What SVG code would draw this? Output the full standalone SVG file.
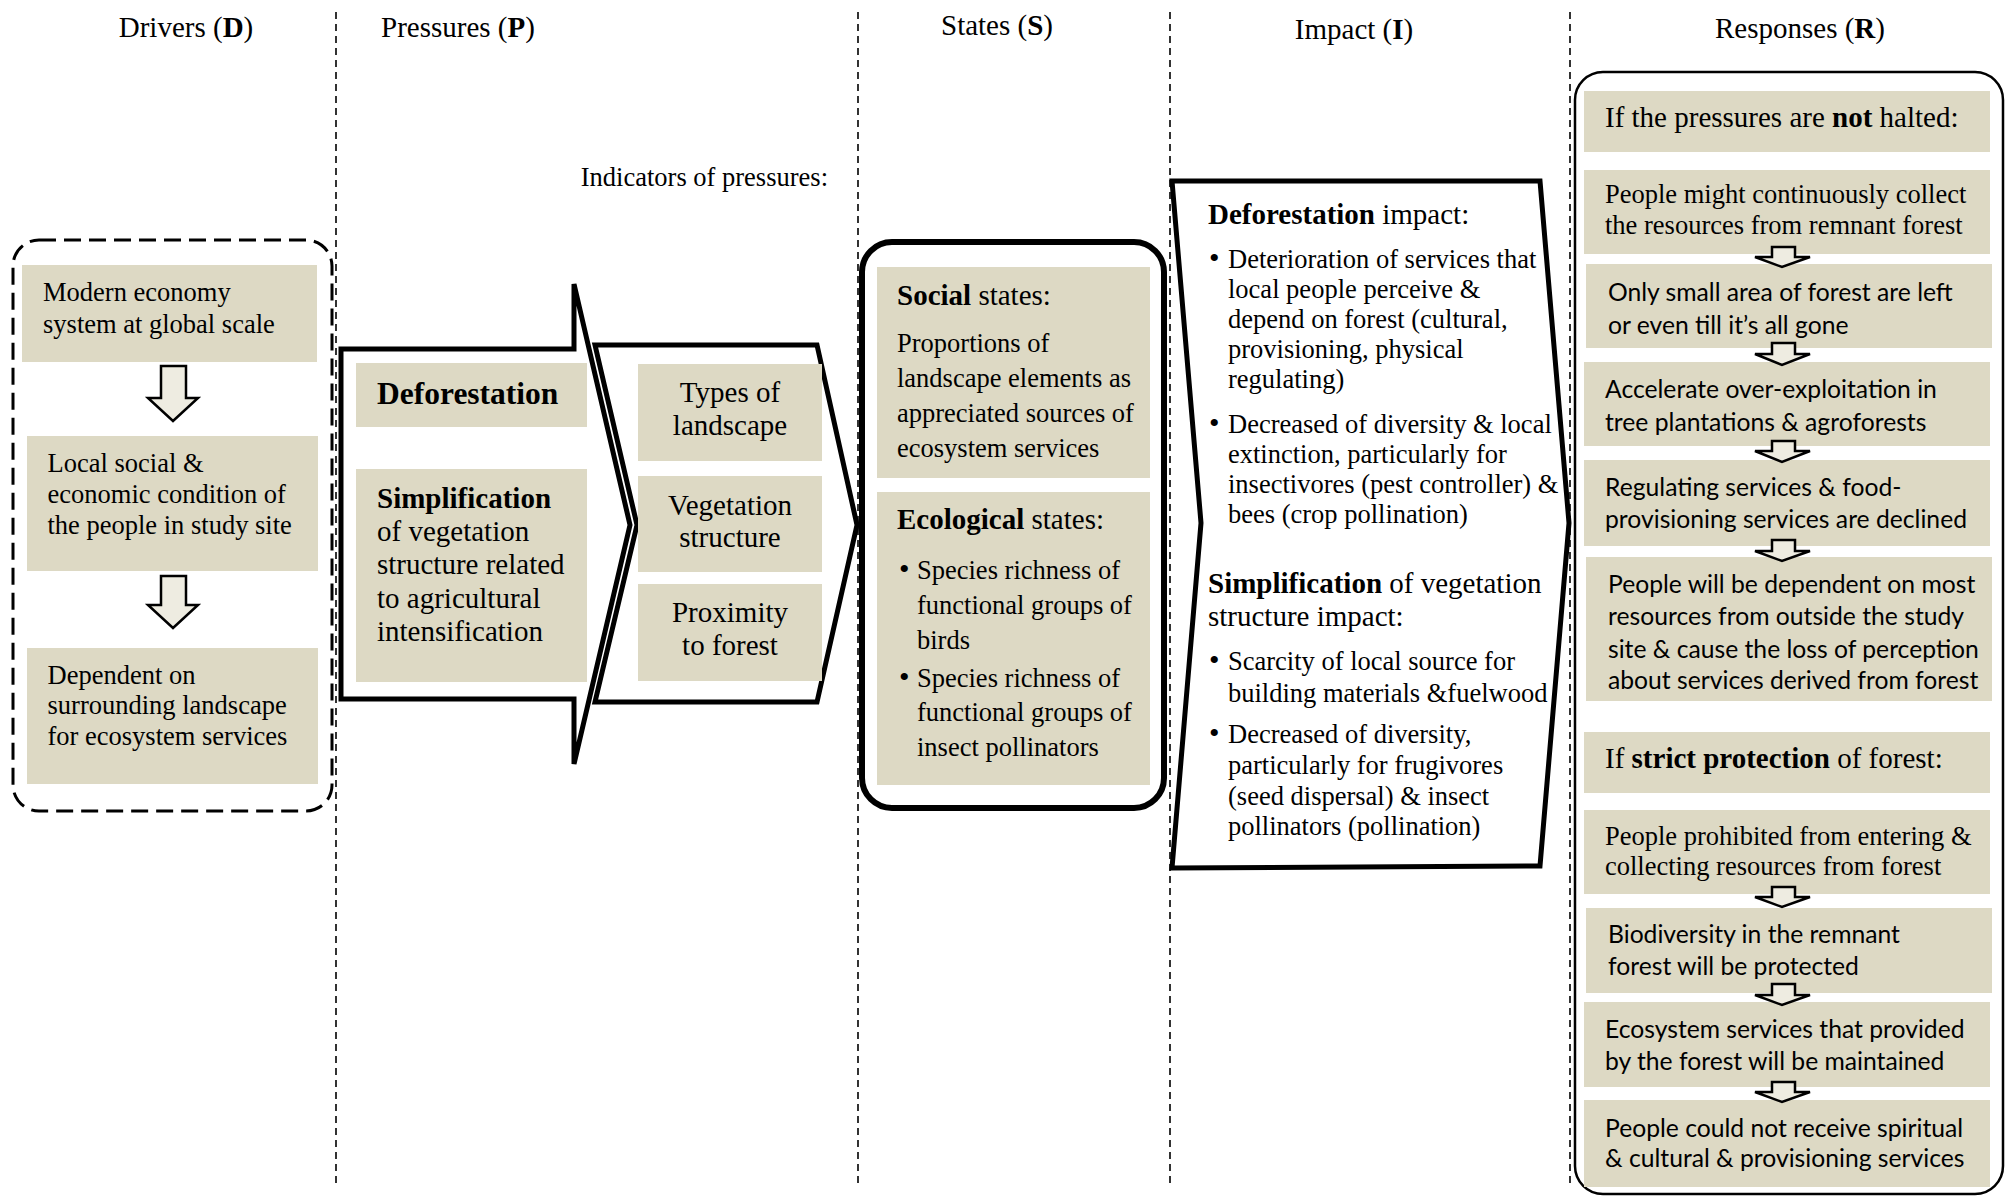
<svg xmlns="http://www.w3.org/2000/svg" width="2013" height="1196" viewBox="0 0 2013 1196">
<style>
.hdr{font-family:"Liberation Serif","Times New Roman",serif;font-size:29px;fill:#000}
.t{font-family:"Liberation Serif","Times New Roman",serif;font-size:26.5px;fill:#000}
.h{font-family:"Liberation Serif","Times New Roman",serif;font-size:29px;fill:#000}
.c{font-family:Lato,"Liberation Sans",sans-serif;font-size:24.7px;fill:#000}
.b{font-weight:bold}
.box{fill:#DDD9C4}
.arr{fill:#EEECE1;stroke:#000;stroke-width:2.5;stroke-linejoin:miter}
.vl{stroke:#000;stroke-width:1.6;stroke-dasharray:7 5;fill:none}
.thick{fill:#fff;stroke:#000;stroke-width:5;stroke-linejoin:miter}
</style>
<rect width="2013" height="1196" fill="#fff"/>
<g id="columns">
<line class="vl" x1="336" y1="12" x2="336" y2="1183"/>
<line class="vl" x1="858" y1="12" x2="858" y2="1183"/>
<line class="vl" x1="1170" y1="12" x2="1170" y2="1183"/>
<line class="vl" x1="1570" y1="12" x2="1570" y2="1183"/>
<text class="hdr" x="186" y="37" text-anchor="middle">Drivers (<tspan class="b">D</tspan>)</text>
<text class="hdr" x="458" y="37" text-anchor="middle">Pressures (<tspan class="b">P</tspan>)</text>
<text class="hdr" x="997" y="35" text-anchor="middle">States (<tspan class="b">S</tspan>)</text>
<text class="hdr" x="1354" y="38.5" text-anchor="middle">Impact (<tspan class="b">I</tspan>)</text>
<text class="hdr" x="1800" y="38" text-anchor="middle">Responses (<tspan class="b">R</tspan>)</text>
<text class="t" x="828" y="186" text-anchor="end">Indicators of pressures:</text>
</g>
<g id="drivers">
<rect x="13" y="240" width="319" height="571" rx="26" fill="none" stroke="#000" stroke-width="3" stroke-dasharray="17 8"/>
<g id="d1"><rect class="box" x="22" y="265" width="295" height="97"/>
<text class="t" x="43" y="301">Modern economy</text><text class="t" x="43" y="333">system at global scale</text></g>
<g id="d2"><rect class="box" x="27" y="436" width="291" height="135"/>
<text class="t" x="47.5" y="472">Local social &amp;</text><text class="t" x="47.5" y="502.5">economic condition of</text><text class="t" x="47.5" y="533.5">the people in study site</text></g>
<g id="d3"><rect class="box" x="27" y="648" width="291" height="136"/>
<text class="t" x="47.5" y="683.5">Dependent on</text><text class="t" x="47.5" y="714">surrounding landscape</text><text class="t" x="47.5" y="745">for ecosystem services</text></g>
</g>
<g id="pressures">
<path class="thick" d="M341,349 H574 V284 L630,525 L574,764 V699 H341 Z" stroke-width="4.5"/>
<g id="p1"><rect class="box" x="356" y="363" width="231" height="64"/>
<text class="h b" x="377" y="404" style="font-size:31.5px">Deforestation</text></g>
<g id="p2"><rect class="box" x="356" y="469" width="231" height="213"/>
<text class="h b" x="377" y="507.5">Simplification</text>
<text class="h" x="377" y="540.5">of vegetation</text>
<text class="h" x="377" y="574">structure related</text>
<text class="h" x="377" y="608">to agricultural</text>
<text class="h" x="377" y="641">intensification</text></g>
</g>
<g id="indicators">
<path class="thick" d="M595,345 H817 L857,525 L817,702 H595 L637,525 Z"/>
<g id="i1"><rect class="box" x="638" y="364" width="184" height="97"/>
<text class="h" x="730" y="402" text-anchor="middle">Types of</text><text class="h" x="730" y="435" text-anchor="middle">landscape</text></g>
<g id="i2"><rect class="box" x="638" y="476" width="184" height="96"/>
<text class="h" x="730" y="515" text-anchor="middle">Vegetation</text><text class="h" x="730" y="547" text-anchor="middle">structure</text></g>
<g id="i3"><rect class="box" x="638" y="584" width="184" height="97"/>
<text class="h" x="730" y="622" text-anchor="middle">Proximity</text><text class="h" x="730" y="655" text-anchor="middle">to forest</text></g>
</g>
<g id="states">
<rect x="862" y="242" width="302" height="566" rx="30" fill="#fff" stroke="#000" stroke-width="6"/>
<g id="s1"><rect class="box" x="877" y="267" width="273" height="211"/>
<text class="h" x="897" y="305"><tspan class="b">Social</tspan> states:</text>
<text class="t" x="897" y="352">Proportions of</text>
<text class="t" x="897" y="386.5">landscape elements as</text>
<text class="t" x="897" y="421.5">appreciated sources of</text>
<text class="t" x="897" y="456.5">ecosystem services</text></g>
<g id="s2"><rect class="box" x="877" y="492" width="273" height="293"/>
<text class="h" x="897" y="529"><tspan class="b">Ecological</tspan> states:</text>
<text class="t" x="899" y="579" style="font-size:30px">•</text><text class="t" x="917" y="579">Species richness of</text>
<text class="t" x="917" y="614">functional groups of</text>
<text class="t" x="917" y="649">birds</text>
<text class="t" x="899" y="686.5" style="font-size:30px">•</text><text class="t" x="917" y="686.5">Species richness of</text>
<text class="t" x="917" y="721">functional groups of</text>
<text class="t" x="917" y="756">insect pollinators</text></g>
</g>
<g id="impact">
<path class="thick" d="M1172,181 H1540 L1569,523 L1540,866 L1172,868 L1201,523 Z"/>
<text class="h" x="1208" y="224"><tspan class="b">Deforestation</tspan> impact:</text>
<text class="t" x="1209" y="268" style="font-size:30px">•</text><text class="t" x="1228" y="268">Deterioration of services that</text>
<text class="t" x="1228" y="298">local people perceive &amp;</text>
<text class="t" x="1228" y="328">depend on forest (cultural,</text>
<text class="t" x="1228" y="358">provisioning, physical</text>
<text class="t" x="1228" y="388">regulating)</text>
<text class="t" x="1209" y="433" style="font-size:30px">•</text><text class="t" x="1228" y="433">Decreased of diversity &amp; local</text>
<text class="t" x="1228" y="463">extinction, particularly for</text>
<text class="t" x="1228" y="493">insectivores (pest controller) &amp;</text>
<text class="t" x="1228" y="523">bees (crop pollination)</text>
<text class="h" x="1208" y="593"><tspan class="b">Simplification</tspan> of vegetation</text>
<text class="h" x="1208" y="626">structure impact:</text>
<text class="t" x="1209" y="670" style="font-size:30px">•</text><text class="t" x="1228" y="670">Scarcity of local source for</text>
<text class="t" x="1228" y="702">building materials &amp;fuelwood</text>
<text class="t" x="1209" y="743" style="font-size:30px">•</text><text class="t" x="1228" y="743">Decreased of diversity,</text>
<text class="t" x="1228" y="774">particularly for frugivores</text>
<text class="t" x="1228" y="805">(seed dispersal) &amp; insect</text>
<text class="t" x="1228" y="835">pollinators (pollination)</text>
</g>
<g id="responses">
<rect x="1575" y="72" width="428" height="1122" rx="28" fill="#fff" stroke="#000" stroke-width="2.5"/>
<g id="rA"><rect class="box" x="1584" y="91" width="406" height="61"/>
<text class="h" x="1605" y="127">If the pressures are <tspan class="b">not</tspan> halted:</text></g>
<g id="rB"><rect class="box" x="1584" y="170" width="406" height="84"/>
<text class="t" x="1605" y="203">People might continuously collect</text>
<text class="t" x="1605" y="234">the resources from remnant forest</text></g>
<g id="rC"><rect class="box" x="1586" y="264" width="406" height="84"/>
<text class="c" x="1608" y="301">Only small area of forest are left</text>
<text class="c" x="1608" y="334">or even till it’s all gone</text></g>
<g id="rD"><rect class="box" x="1584" y="362" width="406" height="84"/>
<text class="c" x="1605" y="398">Accelerate over-exploitation in</text>
<text class="c" x="1605" y="430.5">tree plantations &amp; agroforests</text></g>
<g id="rE"><rect class="box" x="1584" y="460" width="406" height="86"/>
<text class="c" x="1605" y="496">Regulating services &amp; food-</text>
<text class="c" x="1605" y="528">provisioning services are declined</text></g>
<g id="rF"><rect class="box" x="1586" y="557" width="406" height="144"/>
<text class="c" x="1608" y="593">People will be dependent on most</text>
<text class="c" x="1608" y="625">resources from outside the study</text>
<text class="c" x="1608" y="657.5">site &amp; cause the loss of perception</text>
<text class="c" x="1608" y="689">about services derived from forest</text></g>
<g id="rG"><rect class="box" x="1584" y="732" width="406" height="61"/>
<text class="h" x="1605" y="768">If <tspan class="b">strict protection</tspan> of forest:</text></g>
<g id="rH"><rect class="box" x="1584" y="810" width="406" height="84"/>
<text class="t" x="1605" y="845">People prohibited from entering &amp;</text>
<text class="t" x="1605" y="875">collecting resources from forest</text></g>
<g id="rI"><rect class="box" x="1586" y="908" width="406" height="85"/>
<text class="c" x="1608" y="943">Biodiversity in the remnant</text>
<text class="c" x="1608" y="975">forest will be protected</text></g>
<g id="rJ"><rect class="box" x="1584" y="1002" width="406" height="85"/>
<text class="c" x="1605" y="1038">Ecosystem services that provided</text>
<text class="c" x="1605" y="1070">by the forest will be maintained</text></g>
<g id="rK"><rect class="box" x="1584" y="1100" width="406" height="87"/>
<text class="c" x="1605" y="1137">People could not receive spiritual</text>
<text class="c" x="1605" y="1167">&amp; cultural &amp; provisioning services</text></g>
</g>
<g id="connectors">
<path class="arr" d="M161,366 H186 V398 H198 L173,421 L148,398 H161 Z"/>
<path class="arr" d="M161,576 H186 V605 H198 L173,628 L148,605 H161 Z"/>
<path class="arr" d="M1772,247 H1795 V257 H1810 L1782,267 L1755,257 H1772 Z"/>
<path class="arr" d="M1772,343 H1795 V354 H1810 L1782,365 L1755,354 H1772 Z"/>
<path class="arr" d="M1772,441 H1795 V451 H1810 L1782,462 L1755,451 H1772 Z"/>
<path class="arr" d="M1772,540 H1795 V551 H1810 L1782,561 L1755,551 H1772 Z"/>
<path class="arr" d="M1772,887 H1795 V897 H1810 L1782,907 L1755,897 H1772 Z"/>
<path class="arr" d="M1772,984 H1795 V995 H1810 L1782,1005 L1755,995 H1772 Z"/>
<path class="arr" d="M1772,1082 H1795 V1092 H1810 L1782,1102 L1755,1092 H1772 Z"/>
</g>
</svg>
